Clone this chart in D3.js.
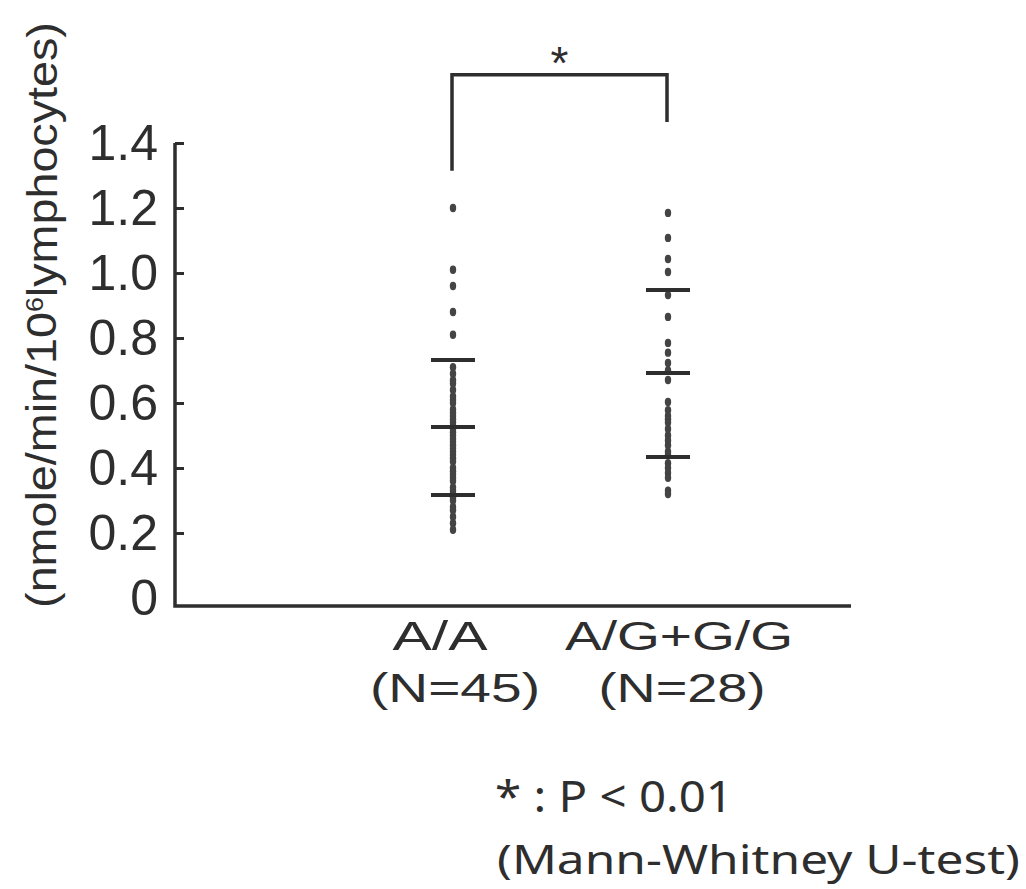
<!DOCTYPE html>
<html>
<head>
<meta charset="utf-8">
<script src="https://cdn.jsdelivr.net/npm/d3@7"></script>
<style>
  body { margin: 0; background: #fff; }
  svg { display: block; }
</style>
</head>
<body>
<svg id="drawing_region"></svg>
<script>
// groups and counts
const groups = ['A/A', 'A/G+G/G'];
const groupN = [45, 28];

// individual values
const valuesAA = [
    1.20, 1.01, 0.96, 0.88, 0.81,
    0.71, 0.69, 0.67, 0.66, 0.64, 0.62, 0.61, 0.60, 0.58, 0.57,
    0.56, 0.55, 0.54, 0.53, 0.52, 0.51, 0.50, 0.49, 0.48, 0.47,
    0.46, 0.45, 0.44, 0.43, 0.42, 0.40, 0.39, 0.38, 0.37, 0.36,
    0.34, 0.33, 0.32, 0.31, 0.30, 0.28, 0.27, 0.25, 0.23, 0.21
];
const valuesAG = [
    1.185, 1.108, 1.043, 1.003, 0.932, 0.865, 0.785, 0.755, 0.723, 0.70,
    0.671, 0.603, 0.578, 0.56, 0.55, 0.54, 0.52, 0.50, 0.485, 0.47,
    0.45, 0.44, 0.415, 0.40, 0.385, 0.37, 0.33, 0.32
];

// cross bars (mean and +/- SD)
const barMid   = [0.526, 0.692];
const barUpper = [0.732, 0.948];
const barLower = [0.317, 0.434];

// y axis
const yTicks = [0, 0.2, 0.4, 0.6, 0.8, 1.0, 1.2, 1.4];
const yTickLabels = ['0', '0.2', '0.4', '0.6', '0.8', '1.0', '1.2', '1.4'];

const config = {
    parent: '#drawing_region',
    width: 1026,
    height: 889,
    margin: {top:143, right:175, bottom:291, left:175}
};

class DotPlot {
    constructor( config ) {
        this.config = config;
        this.init();
    }
    init() {
        let self = this;

        self.svg = d3.select( self.config.parent )
            .attr('width', self.config.width)
            .attr('height', self.config.height);

        self.chart = self.svg.append('g')
            .attr('transform', `translate(${self.config.margin.left}, ${self.config.margin.top})`);

        self.inner_width = self.config.width - self.config.margin.left - self.config.margin.right;
        self.inner_height = self.config.height - self.config.margin.top - self.config.margin.bottom;

        self.xscale = d3.scalePoint()
            .domain( groups )
            .range([278, 493]);

        self.yscale = d3.scaleLinear()
            .domain([0, 1.4])
            .range([self.inner_height, 0]);

        self.yaxis = d3.axisLeft( self.yscale )
            .tickValues( yTicks )
            .tickFormat( (d, i) => yTickLabels[i] )
            .tickSize(-9)
            .tickPadding(17);
    }
    render() {
        let self = this;
        const ink = '#2e2e2e';
        const xaxis_y = self.inner_height + 8;

        // y axis
        const yg = self.chart.append('g').call( self.yaxis );
        yg.select('.domain').remove();
        yg.selectAll('.tick line')
            .attr('stroke', ink)
            .attr('stroke-width', 3)
            .filter( d => d === 0 ).remove();
        yg.selectAll('.tick text')
            .attr('fill', ink)
            .style('font-family', '"Liberation Sans", Arial, sans-serif')
            .style('font-size', '50px');

        // axis lines
        self.chart.append('path')
            .attr('d', `M0,${self.yscale(1.4)} V${xaxis_y} H${self.inner_width}`)
            .attr('fill', 'none')
            .attr('stroke', ink)
            .attr('stroke-width', 3.5);

        // dots
        const columns = [valuesAA, valuesAG];
        columns.forEach( (vals, i) => {
            self.chart.append('g').selectAll('ellipse')
                .data(vals)
                .join('ellipse')
                .attr('cx', self.xscale(groups[i]))
                .attr('cy', d => self.yscale(d))
                .attr('rx', 3.2)
                .attr('ry', 4.2)
                .attr('fill', '#444');
        });

        // cross bars
        const bars = [];
        groups.forEach( (g, i) => {
            bars.push({g: g, v: barUpper[i]});
            bars.push({g: g, v: barMid[i]});
            bars.push({g: g, v: barLower[i]});
        });
        self.chart.append('g').selectAll('line')
            .data(bars)
            .join('line')
            .attr('x1', d => self.xscale(d.g) - 22)
            .attr('x2', d => self.xscale(d.g) + 22)
            .attr('y1', d => self.yscale(d.v))
            .attr('y2', d => self.yscale(d.v))
            .attr('stroke', ink)
            .attr('stroke-width', 4);

        // significance bracket
        const xa = self.xscale(groups[0]) - 1, xb = self.xscale(groups[1]) - 1;
        self.chart.append('path')
            .attr('d', `M${xa},${self.yscale(1.315)} V${self.yscale(1.61)} H${xb} V${self.yscale(1.465)}`)
            .attr('fill', 'none')
            .attr('stroke', ink)
            .attr('stroke-width', 3.5);
        self.chart.append('text')
            .attr('x', (xa + xb) / 2)
            .attr('y', self.yscale(1.61))
            .attr('dy', '0.1em')
            .attr('text-anchor', 'middle')
            .attr('fill', ink)
            .style('font-family', '"Liberation Sans", Arial, sans-serif')
            .style('font-size', '46px')
            .text('*');

        // y title, stretched to the span it covers in the picture
        const ytitle = self.svg.append('text')
            .attr('text-anchor', 'middle')
            .attr('fill', ink)
            .style('font-family', '"Liberation Sans", Arial, sans-serif')
            .style('font-size', '42px');
        ytitle.append('tspan').text('(');
        ytitle.append('tspan').text('nmole/min/10');
        ytitle.append('tspan').attr('dy', '-0.55em').style('font-size', '24px').text('6');
        ytitle.append('tspan').attr('dy', '0.33em').text('lymphocytes');
        ytitle.append('tspan').text(')');
        const natural = ytitle.node().getBBox().width;
        ytitle.attr('transform', `translate(56, 315) rotate(-90) scale(${586 / natural}, 1)`);

        // x labels
        const labelFont = '"Liberation Sans", Arial, sans-serif';
        const line1 = [{dx: -13, w: 95}, {dx: 11, w: 228}];
        const line2 = [{dx: 2, w: 170}, {dx: 14, w: 167}];
        groups.forEach( (g, i) => {
            const cx = self.config.margin.left + self.xscale(g);
            self.svg.append('text')
                .attr('x', cx + line1[i].dx)
                .attr('y', 650)
                .attr('text-anchor', 'middle')
                .attr('textLength', line1[i].w)
                .attr('lengthAdjust', 'spacingAndGlyphs')
                .attr('fill', ink)
                .style('font-family', labelFont)
                .style('font-size', '41px')
                .text(g);
            self.svg.append('text')
                .attr('x', cx + line2[i].dx)
                .attr('y', 702)
                .attr('text-anchor', 'middle')
                .attr('textLength', line2[i].w)
                .attr('lengthAdjust', 'spacingAndGlyphs')
                .attr('fill', ink)
                .style('font-family', labelFont)
                .style('font-size', '41px')
                .text(`(N=${groupN[i]})`);
        });

        // footnote
        const noteFont = '"Noto Sans", "Open Sans", sans-serif';
        self.svg.append('text')
            .attr('x', 495).attr('y', 812)
            .attr('textLength', 238)
            .attr('lengthAdjust', 'spacingAndGlyphs')
            .attr('fill', ink)
            .style('font-family', noteFont)
            .style('font-size', '43px')
            .text('* : P < 0.01');
        self.svg.append('text')
            .attr('x', 497).attr('y', 874)
            .attr('textLength', 523)
            .attr('lengthAdjust', 'spacingAndGlyphs')
            .attr('fill', ink)
            .style('font-family', noteFont)
            .style('font-size', '40px')
            .text('(Mann-Whitney U-test)');
    }
}

const dot_plot = new DotPlot( config );
dot_plot.render();
</script>
</body>
</html>
